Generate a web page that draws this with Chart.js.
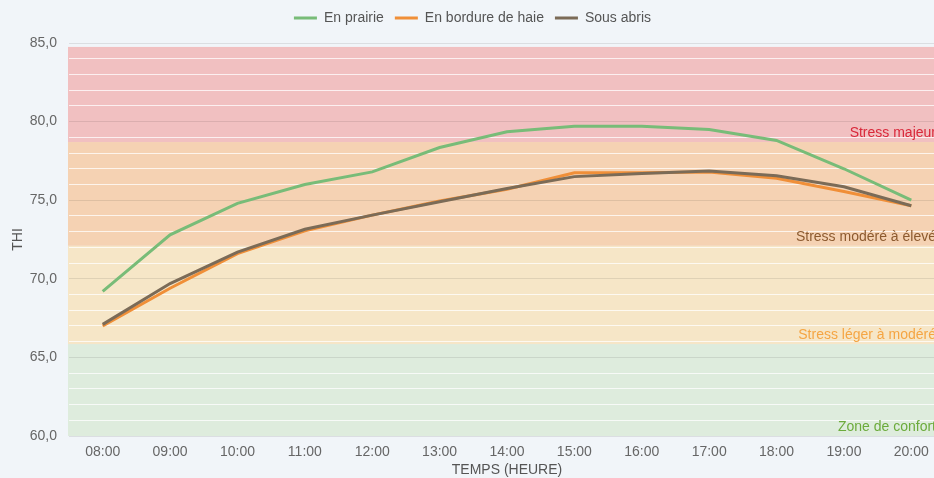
<!DOCTYPE html>
<html>
<head>
<meta charset="utf-8">
<script src="https://cdn.jsdelivr.net/npm/chart.js@4"></script>
<style>
    html, body { margin: 0; padding: 0; overflow: hidden; background: #f1f5f9; }
    #wrap { width: 955px; height: 478px; }
</style>
</head>
<body>
<div id="wrap"><canvas id="thi-chart" width="955" height="478"></canvas></div>
<script>
const hours = ['08:00', '09:00', '10:00', '11:00', '12:00', '13:00', '14:00',
    '15:00', '16:00', '17:00', '18:00', '19:00', '20:00'];
const prairie = [69.2, 72.8, 74.8, 76.0, 76.8, 78.35, 79.35, 79.7, 79.7, 79.5, 78.8, 77.0, 75.0];
const bordureHaie = [67.0, 69.4, 71.6, 73.05, 74.05, 74.95, 75.7, 76.75, 76.75, 76.8, 76.4, 75.55, 74.65];
const sousAbris = [67.1, 69.7, 71.7, 73.15, 74.05, 74.9, 75.75, 76.5, 76.7, 76.85, 76.55, 75.85, 74.65];

// zone limits (THI), bottom to top
const zoneLimits = [60, 65.85, 72.1, 78.7, 84.75];
const zoneLabels = ['Zone de confort', 'Stress léger à modéré', 'Stress modéré à élevé', 'Stress majeur'];
const zoneFill = ['#deecdd', '#f6e6c7', '#f5d2b3', '#f1c0c1'];
const zoneText = ['#6cab3c', '#f5a543', '#8c5a2f', '#d9283a'];

const zonesPlugin = {
    id: 'zones',
    beforeDraw(chart) {
        const { ctx, chartArea: a, scales: { y } } = chart;
        ctx.save();
        ctx.fillStyle = '#f1f5f9';
        ctx.fillRect(0, 0, chart.width, chart.height);
        for (let i = 0; i < zoneLabels.length; i++) {
            const top = y.getPixelForValue(zoneLimits[i + 1]);
            const bottom = y.getPixelForValue(zoneLimits[i]);
            ctx.fillStyle = zoneFill[i];
            ctx.fillRect(a.left - 1, top, a.right - a.left + 1, bottom - top);
        }
        ctx.restore();
    },
    beforeDatasetsDraw(chart) {
        const { ctx, chartArea: a, scales: { y } } = chart;
        ctx.save();
        ctx.font = "14px 'Liberation Sans', Arial, sans-serif";
        ctx.textAlign = 'right';
        ctx.textBaseline = 'alphabetic';
        for (let i = 0; i < zoneLabels.length; i++) {
            ctx.fillStyle = zoneText[i];
            ctx.fillText(zoneLabels[i], a.right - 9, y.getPixelForValue(zoneLimits[i]) - 5);
        }
        ctx.restore();
    }
};

// a bit more room under the legend
const legendSpacer = {
    id: 'legendSpacer',
    afterInit(chart) {
        const fit = chart.legend.fit;
        chart.legend.fit = function () {
            fit.call(this);
            this.height = 43;
        };
    }
};

Chart.defaults.font.family = "'Liberation Sans', Arial, sans-serif";
Chart.defaults.font.size = 14;
Chart.defaults.color = '#666';

const lineDefaults = { borderWidth: 3, pointRadius: 0, pointHoverRadius: 0, tension: 0, fill: false };

new Chart(document.getElementById('thi-chart').getContext('2d'), {
    type: 'line',
    data: {
        labels: hours,
        datasets: [
            { ...lineDefaults, label: 'En prairie', data: prairie, borderColor: '#78bc78', backgroundColor: '#78bc78', order: 0 },
            { ...lineDefaults, label: 'En bordure de haie', data: bordureHaie, borderColor: '#f08f38', backgroundColor: '#f08f38', order: 2 },
            { ...lineDefaults, label: 'Sous abris', data: sousAbris, borderColor: '#7b6b57', backgroundColor: '#7b6b57', order: 1 }
        ]
    },
    options: {
        responsive: false,
        animation: false,
        layout: { padding: { left: 0, right: 10, top: 0, bottom: 0 } },
        plugins: {
            legend: {
                position: 'top',
                labels: {
                    boxWidth: 23,
                    boxHeight: 0,
                    padding: 11,
                    color: '#555',
                    sort: (a, b) => a.datasetIndex - b.datasetIndex
                }
            },
            tooltip: { enabled: false }
        },
        scales: {
            x: {
                offset: true,
                grid: { display: false, drawTicks: false },
                border: { display: false },
                ticks: { padding: 8, color: '#666' },
                title: { display: true, text: 'TEMPS (HEURE)', color: '#555', padding: { top: 0, bottom: -1 } },
                afterFit: (scale) => { scale.height = 42; }
            },
            y: {
                min: 60,
                max: 85,
                border: { display: false },
                grid: {
                    drawTicks: false,
                    color: (c) => (c.tick && c.tick.value % 5 === 0) ? 'rgba(0,0,0,0.09)' : 'rgba(255,255,255,0.75)'
                },
                ticks: {
                    stepSize: 1,
                    autoSkip: false,
                    padding: 12,
                    color: '#666',
                    callback: (v) => v % 5 === 0 ? v.toFixed(1).replace('.', ',') : ''
                },
                title: { display: true, text: 'THI', color: '#555', padding: { top: 10, bottom: 0 } },
                afterFit: (scale) => { scale.width = 69; }
            }
        }
    },
    plugins: [zonesPlugin, legendSpacer]
});
</script>
</body>
</html>
